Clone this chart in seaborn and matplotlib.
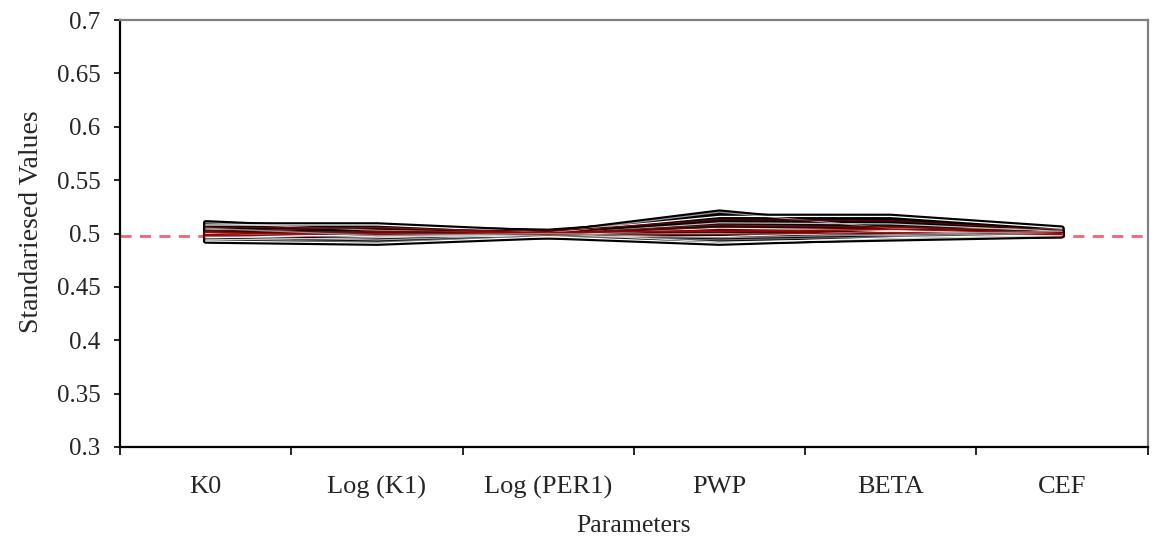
import numpy as np
import pandas as pd
import matplotlib
matplotlib.use("Agg")
import matplotlib.pyplot as plt
import seaborn as sns

# ---- data ----
parameters = ["K0", "Log (K1)", "Log (PER1)", "PWP", "BETA", "CEF"]
run_01 = [0.510, 0.503, 0.500, 0.520, 0.505, 0.504]
run_02 = [0.508, 0.508, 0.501, 0.516, 0.516, 0.505]
run_03 = [0.506, 0.505, 0.502, 0.513, 0.512, 0.503]
run_04 = [0.504, 0.500, 0.499, 0.510, 0.509, 0.502]
run_05 = [0.502, 0.506, 0.500, 0.508, 0.506, 0.501]
run_06 = [0.500, 0.497, 0.498, 0.505, 0.503, 0.500]
run_07 = [0.499, 0.502, 0.501, 0.503, 0.500, 0.499]
run_08 = [0.497, 0.494, 0.499, 0.500, 0.498, 0.500]
run_09 = [0.496, 0.499, 0.497, 0.497, 0.502, 0.499]
run_10 = [0.495, 0.492, 0.498, 0.494, 0.497, 0.498]
run_11 = [0.494, 0.496, 0.500, 0.492, 0.495, 0.498]
run_12 = [0.493, 0.491, 0.497, 0.491, 0.496, 0.499]
run_13 = [0.503, 0.501, 0.500, 0.506, 0.507, 0.501]
run_14 = [0.501, 0.499, 0.501, 0.502, 0.504, 0.500]
run_15 = [0.498, 0.500, 0.499, 0.499, 0.501, 0.499]
run_16 = [0.505, 0.498, 0.500, 0.496, 0.499, 0.502]
runs = [run_01, run_02, run_03, run_04, run_05, run_06, run_07, run_08,
        run_09, run_10, run_11, run_12, run_13, run_14, run_15, run_16]
reference_value = 0.498
y_ticks = [0.3, 0.35, 0.4, 0.45, 0.5, 0.55, 0.6, 0.65, 0.7]
y_tick_labels = ["0.3", "0.35", "0.4", "0.45", "0.5", "0.55", "0.6", "0.65", "0.7"]

rows = []
for i, r in enumerate(runs):
    for j, v in enumerate(r):
        rows.append({"run": f"r{i:02d}", "pos": j, "value": v})
df = pd.DataFrame(rows)

inner_colors = ["#9a9a9a", "#ffffff", "#6e0000", "#bdbdbd", "#7a1010", "#e8e8e8",
                "#8b0000", "#a0a0a0", "#ffffff", "#6a6a6a", "#d0d0d0", "#ffffff",
                "#5a0a0a", "#b00000", "#8b1a1a", "#909090"]
inner_pal = {f"r{i:02d}": c for i, c in enumerate(inner_colors)}
outer_pal = {f"r{i:02d}": ("#4a0000" if i in (13, 14) else "#000000") for i in range(len(runs))}

sns.set_theme(style="white")
plt.rcParams["font.family"] = ["Liberation Serif", "DejaVu Serif"]

fig = plt.figure(figsize=(11.61, 5.43), dpi=100)
ax = fig.add_axes([0.1034, 0.1768, 0.8850, 0.7863])

ax.axhline(reference_value, color="#e8424c", lw=2.0, ls=(0, (4, 3)), alpha=0.8, zorder=1)

sns.lineplot(data=df, x="pos", y="value", hue="run", units="run", estimator=None,
             palette=outer_pal, lw=4.0, legend=False, ax=ax, zorder=2)
sns.lineplot(data=df, x="pos", y="value", hue="run", units="run", estimator=None,
             palette=inner_pal, lw=0.9, legend=False, ax=ax, zorder=3)

ax.set_xlim(-0.5, len(parameters) - 0.5)
ax.set_ylim(0.3, 0.7)
ax.set_xticks(range(len(parameters)))
ax.set_xticklabels(parameters, fontsize=19)
ax.set_xticks(np.arange(-0.5, len(parameters), 1.0), minor=True)
ax.tick_params(axis="x", which="major", length=0, pad=21)
ax.tick_params(axis="x", which="minor", length=6, width=1.2, color="black", direction="out", bottom=True)
ax.set_yticks(y_ticks)
ax.set_yticklabels(y_tick_labels, fontsize=18)
ax.tick_params(axis="y", which="major", length=4, width=1.2, color="black", direction="out", left=True, pad=10)

ax.set_xlabel("Parameters", fontsize=18.5, labelpad=11)
ax.set_ylabel("Standariesed Values", fontsize=20)
ax.yaxis.set_label_coords(-0.074, 0.527)

for s in ["left", "bottom"]:
    ax.spines[s].set_color("black")
    ax.spines[s].set_linewidth(1.6)
for s in ["top", "right"]:
    ax.spines[s].set_color("#808080")
    ax.spines[s].set_linewidth(1.6)

fig.savefig("out.png", dpi=100, facecolor="white")
